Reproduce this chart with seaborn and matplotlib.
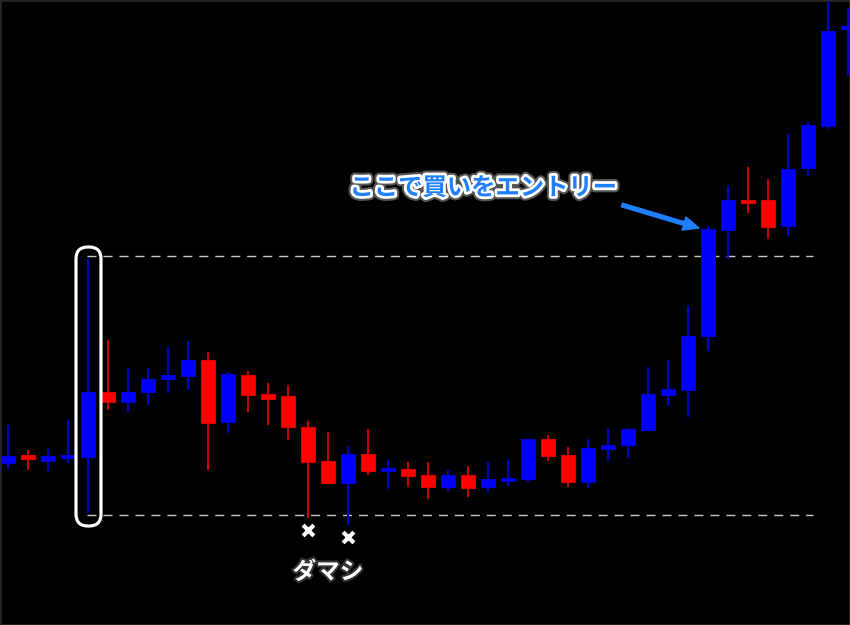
#!/usr/bin/env python3
"""
Candlestick chart: range breakout entry (ダマシ / ここで買いをエントリー)
"""

import numpy as np
import pandas as pd
import matplotlib.pyplot as plt
import matplotlib.patheffects as pe
from matplotlib.patches import FancyBboxPatch, Rectangle
import seaborn as sns

# OHLC values (arbitrary price units)
opens = [162, 170, 164, 167, 168, 233, 223, 233, 246, 249, 265, 203, 250, 231, 229,
         198, 164, 142, 171, 154, 156, 150, 138, 150, 138, 144, 146, 186, 170, 143,
         176, 180, 195, 230, 235, 289, 395, 425, 425, 399, 457, 499, 596]
highs = [200, 175, 176, 205, 366, 285, 257, 257, 278, 284, 273, 253, 254, 242, 240,
         204, 193, 179, 196, 165, 163, 163, 155, 159, 163, 165, 186, 190, 178, 186,
         196, 197, 258, 265, 319, 399, 439, 458, 446, 491, 503, 640, 617]
lows = [156, 155, 154, 162, 112, 215, 213, 220, 232, 235, 155, 192, 213, 200, 185,
        107, 142, 100, 150, 136, 138, 126, 134, 128, 133, 139, 143, 164, 138, 137,
        164, 167, 194, 219, 208, 274, 366, 412, 386, 389, 449, 496, 549]
closes = [169, 166, 169, 169, 233, 223, 233, 246, 250, 265, 202, 251, 230, 226, 198,
          163, 142, 171, 154, 156, 149, 138, 150, 137, 146, 147, 186, 169, 143, 177,
          180, 196, 231, 236, 289, 396, 425, 423, 398, 456, 500, 594, 598]

range_high = 369
range_low = 110
range_candle = 4
fake_breaks = [15, 17]

df = pd.DataFrame({"open": opens, "high": highs, "low": lows, "close": closes})
df["idx"] = np.arange(len(df))
df["up"] = df["close"] >= df["open"]

sns.set_style("dark", rc={"axes.facecolor": "black", "figure.facecolor": "black"})
plt.rcParams['font.family'] = ['Noto Sans CJK JP', 'DejaVu Sans']

fig = plt.figure(figsize=(8.5, 6.25), dpi=100)
ax = fig.add_axes([0, 0, 1, 1])
ax.set_xlim(-0.4, 42.1)
ax.set_ylim(0, 625)
ax.axis("off")

body_col = np.where(df["up"], "#0000ff", "#ff0000")
edge_col = np.where(df["up"], "#0000d8", "#d80000")
wick_col = np.where(df["up"], "#0000cc", "#cc0000")

# wicks + bodies
ax.vlines(df["idx"], df["low"], df["high"], colors=wick_col, linewidth=1.5, zorder=2)
heights = (df["close"] - df["open"]).to_numpy(dtype=float)
heights = np.where(np.abs(heights) < 3, np.sign(heights + 0.1) * 3, heights)
ax.bar(df["idx"], heights, bottom=df["open"], width=0.7,
       color=body_col, edgecolor=edge_col, linewidth=0.8, zorder=3)

# range lines
ax.hlines([range_high, range_low], 3.95, 40.25, colors="#c8c8c8",
          linestyles=(0, (6.5, 5)), linewidth=1, zorder=1)

# white rounded frame around the big candle
box = FancyBboxPatch((range_candle - 0.6, range_low - 11), 1.25,
                     range_high - range_low + 20,
                     boxstyle="round,pad=0,rounding_size=0.6", mutation_aspect=20,
                     fill=False, edgecolor="white", linewidth=2.3, zorder=4)
ax.add_patch(box)

# fake break markers
shadow = [pe.withSimplePatchShadow(offset=(1.5, -1.5), shadow_rgbFace="#444444")]
sc = sns.scatterplot(x=fake_breaks, y=[lows[i] - 12 for i in fake_breaks], ax=ax,
                     marker="x", s=60, color="white", linewidth=3, zorder=5)
ax.text(16.0, 53, "ダマシ", color="white", fontsize=17, fontweight="bold",
        ha="center", va="center",
        path_effects=[pe.withStroke(linewidth=3, foreground="#333333")])

# entry label + arrow
ax.text(23.75, 437, "ここで買いをエントリー", color="#1f7fff", fontsize=17.5,
        fontweight="bold", ha="center", va="center",
        path_effects=[pe.Stroke(linewidth=7, foreground="#555555"),
                      pe.Stroke(linewidth=4, foreground="white"), pe.Normal()])
ax.annotate("", xy=(34.55, 397), xytext=(30.7, 420),
            arrowprops=dict(arrowstyle="simple,head_length=0.75,head_width=0.65,tail_width=0.18",
                            color="#1f7fff", shrinkA=0, shrinkB=0, mutation_scale=15))

fig.patches.append(Rectangle((0, 0), 1, 1, transform=fig.transFigure, fill=False,
                             edgecolor="#262626", linewidth=2))

fig.savefig("out.png", dpi=100, facecolor="black")
